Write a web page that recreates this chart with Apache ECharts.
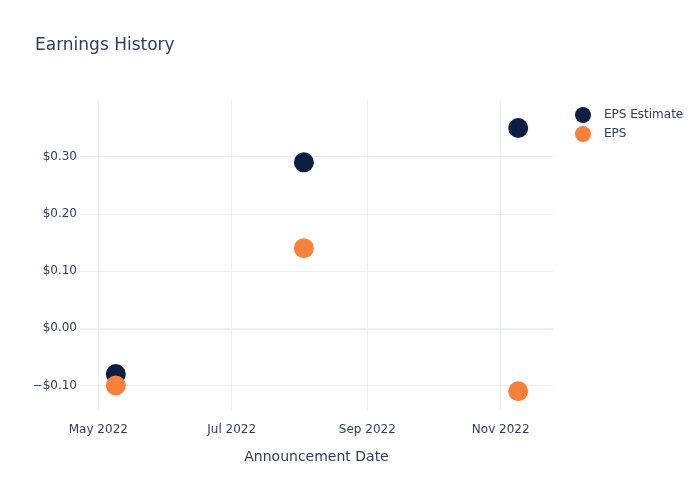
<!DOCTYPE html>
<html>
<head>
<meta charset="utf-8">
<script src="https://cdn.jsdelivr.net/npm/echarts@6/dist/echarts.min.js"></script>
<style>html,body{margin:0;padding:0;background:#fff}#c{width:700px;height:500px}</style>
</head>
<body>
<div id="c"></div>
<script>
// Data
const announceDates = ['2022-05-09', '2022-08-03', '2022-11-09'];
const epsEstimate = [-0.08, 0.29, 0.35];
const epsActual = [-0.10, 0.14, -0.11];
const xTickDates = ['2022-05-01', '2022-07-01', '2022-09-01', '2022-11-01'];
const yTicks = [-0.1, 0, 0.1, 0.2, 0.3];
const seriesNames = ['EPS Estimate', 'EPS'];

const ts = s => Date.parse(s + 'T00:00:00Z');
const monthNames = ['Jan','Feb','Mar','Apr','May','Jun','Jul','Aug','Sep','Oct','Nov','Dec'];
const font = 'DejaVu Sans';
const textColor = '#2a3f5f';
const gridColor = '#EBF0F8';

const chart = echarts.init(document.getElementById('c'), null, {renderer: 'canvas'});
chart.setOption({
  animation: false,
  backgroundColor: '#ffffff',
  textStyle: {fontFamily: font, color: textColor},
  title: {
    text: 'Earnings History', left: 35, top: 37, padding: 0,
    textStyle: {fontFamily: font, fontSize: 17, fontWeight: 'normal', color: textColor}
  },
  legend: {
    orient: 'vertical', left: 575, top: 107, padding: 0,
    itemWidth: 32, itemHeight: 16, itemGap: 3, icon: 'circle',
    data: seriesNames,
    textStyle: {fontFamily: font, fontSize: 12, color: textColor, padding: [0,0,0,0]}
  },
  grid: {left: 80, right: 147, top: 100, bottom: 90, containLabel: false},
  xAxis: {
    type: 'value',
    min: Date.UTC(2022, 3, 22, 15),
    max: Date.UTC(2022, 10, 24, 22),
    name: 'Announcement Date', nameLocation: 'middle', nameGap: 40,
    nameTextStyle: {fontFamily: font, fontSize: 14, color: textColor},
    axisLine: {show: false},
    axisTick: {show: false, customValues: xTickDates.map(ts)},
    axisLabel: {
      customValues: xTickDates.map(ts), margin: 14,
      fontFamily: font, fontSize: 12, color: textColor,
      formatter: v => { const d = new Date(v); return monthNames[d.getUTCMonth()] + ' ' + d.getUTCFullYear(); }
    },
    splitLine: {show: true, lineStyle: {color: gridColor, width: 1}}
  },
  yAxis: {
    type: 'value', min: -0.1428, max: 0.399,
    axisLine: {show: false},
    axisTick: {show: false, customValues: yTicks},
    axisLabel: {
      customValues: yTicks, margin: 3,
      fontFamily: font, fontSize: 12, color: textColor,
      formatter: v => (v < 0 ? '\u2212$' : '$') + Math.abs(v).toFixed(2)
    },
    splitLine: {show: true, lineStyle: {color: gridColor, width: 1}}
  },
  series: [
    {
      name: seriesNames[0], type: 'scatter', symbol: 'circle', symbolSize: 20,
      itemStyle: {color: '#0c1f42', opacity: 1},
      data: announceDates.map((d, i) => [ts(d), epsEstimate[i]]),
      markLine: {
        silent: true, symbol: 'none', label: {show: false}, z: 1,
        lineStyle: {color: gridColor, width: 2, type: 'solid'},
        data: [{yAxis: 0}]
      }
    },
    {
      name: seriesNames[1], type: 'scatter', symbol: 'circle', symbolSize: 20,
      itemStyle: {color: '#f7813a', opacity: 1},
      data: announceDates.map((d, i) => [ts(d), epsActual[i]])
    }
  ]
});
</script>
</body>
</html>
